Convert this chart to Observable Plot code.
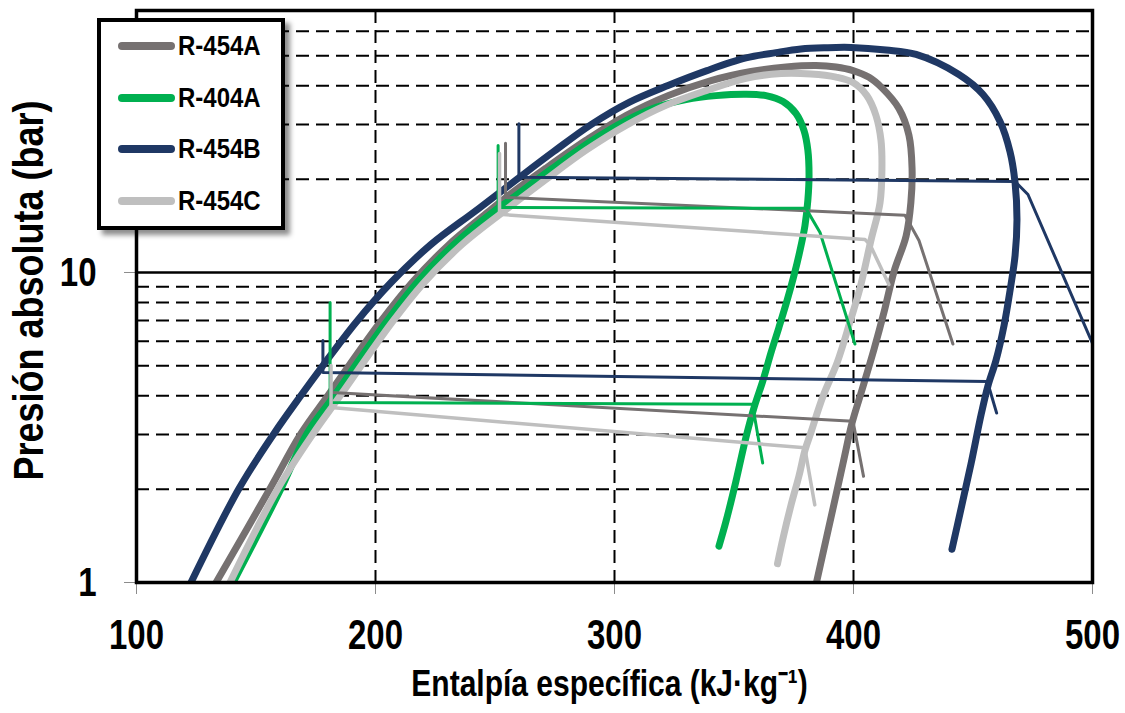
<!DOCTYPE html>
<html><head><meta charset="utf-8">
<script src="https://cdn.jsdelivr.net/npm/d3@7"></script>
<script src="https://cdn.jsdelivr.net/npm/@observablehq/plot@0.6"></script>
<style>
body{margin:0;background:#fff;}
#wrap{position:relative;width:1125px;height:713px;font-family:"Liberation Sans",Arial,sans-serif;}
#legend{position:absolute;left:97px;top:18px;width:180px;height:204px;border:4px solid #000;background:#fff;box-shadow:5px 5px 5px rgba(0,0,0,0.45);}
.item{position:absolute;left:0;width:180px;height:24px;}
.sw{position:absolute;left:17px;top:8px;width:57px;height:8px;border-radius:4px;}
.lab{position:absolute;left:77px;top:0;line-height:24px;font-size:24px;font-weight:bold;transform:scaleY(1.18);transform-origin:center;white-space:nowrap;}
</style>
</head><body>
<div id="wrap"><div id="chart"></div><div id="legend"></div></div>
<script>
// ---- data (h in kJ/kg, p in bar) ----
const series = ["R-454A", "R-404A", "R-454B", "R-454C"];
const colors = ["#767171", "#00B050", "#1F3864", "#BFBFBF"];

const r454A_dome = [[133.3,1.0],[155.9,2.01],[168.8,3.02],[180.1,4.01],[201.9,6.90],[215.3,9.28],[230.8,12.31],[247.9,15.85],[254.6,17.46],[271.3,21.7],[288.1,26.7],[304.8,32.1],[322.4,37.2],[340.4,41.6],[357.1,44.5],[371.8,46.0],[384.3,46.5],[392.7,46.0],[399.8,44.8],[406.5,42.6],[411.9,39.4],[419.0,33.8],[423.2,27.7],[424.5,21.7],[424.0,16.8],[422.0,13.1],[417.0,10.1],[412.8,7.46],[408.6,5.66],[403.6,4.19],[399.4,3.27],[395.6,2.42],[391.4,1.73],[384.5,1.0]];
const r404A_dome = [[140.4,1.0],[160.5,2.01],[171.3,3.02],[182.2,3.95],[204.4,6.90],[217.4,9.28],[232.8,12.31],[250.0,15.85],[255.9,17.07],[273.4,21.5],[290.2,26.5],[304.8,30.9],[317.4,34.1],[329.9,36.1],[342.5,37.2],[355.0,37.6],[363.4,37.2],[370.5,35.6],[375.9,32.6],[379.3,28.7],[380.9,24.8],[381.4,20.6],[380.9,17.1],[379.7,14.18],[377.6,11.77],[375.1,9.78],[372.2,8.12],[368.8,6.65],[365.5,5.52],[362.1,4.48],[358.4,3.67],[355.0,2.94],[350.8,2.12],[346.6,1.57],[343.7,1.31]];
const r454B_dome = [[122.8,1.0],[142.9,2.01],[157.5,3.02],[168.8,4.01],[178.0,5.01],[191.8,6.90],[206.5,9.28],[223.2,12.31],[242.1,15.85],[259.6,20.1],[274.7,24.6],[290.2,30.0],[306.1,35.4],[322.4,40.1],[338.7,44.8],[355.0,49.2],[367.6,51.2],[378.0,52.6],[388.5,53.1],[399.0,53.2],[413.6,52.2],[426.2,50.5],[444.1,43.5],[454.2,37.5],[461.3,30.7],[465.5,24.5],[467.6,19.5],[468.4,14.8],[467.6,11.34],[465.5,8.75],[463.0,6.75],[459.6,5.2],[456.3,4.32],[453.4,3.48],[449.2,2.42],[445.0,1.73],[441.2,1.28]];
const r454C_dome = [[139.1,1.0],[159.2,2.01],[173.9,3.02],[184.7,3.95],[206.9,6.90],[220.3,9.28],[236.2,12.31],[254.2,15.85],[271.3,19.95],[288.1,24.8],[304.8,29.8],[321.5,34.6],[338.3,38.6],[355.0,42.3],[369.7,43.85],[382.2,43.7],[392.7,42.7],[399.8,41.0],[405.6,37.2],[409.4,32.1],[411.5,26.7],[411.9,21.7],[411.1,16.8],[407.3,12.69],[402.7,8.88],[398.5,6.92],[393.2,5.13],[387.2,3.98],[382.2,3.05],[379.7,2.67],[377.2,2.21],[373.8,1.77],[370.5,1.39],[368.2,1.15]];

const r454A_high = [[254.4,26.1],[254.4,17.46],[421.5,15.3],[423.0,14.6],[427.4,12.68],[441.6,5.88]];
const r404A_high = [[251.3,25.7],[251.3,16.2],[380.1,16.1],[386.0,13.46],[400.6,5.88]];
const r454B_high = [[260.0,30.2],[260.0,20.3],[467.6,19.66],[473.0,17.85],[500.0,5.9]];
const r454C_high = [[251.9,24.2],[251.9,15.4],[404.8,12.78],[406.9,12.3],[414.8,9.15]];

const r454A_low = [[181.8,4.10],[399.8,3.31],[404.2,2.20]];
const r404A_low = [[181.0,8.0],[181.0,3.81],[357.7,3.76],[362.0,2.43]];
const r454B_low = [[178.0,6.03],[178.0,4.76],[456.0,4.45],[459.9,3.52]];
const r454C_low = [[181.4,5.01],[181.4,3.67],[379.6,2.72],[383.8,1.78]];

const domes = [r454A_dome, r404A_dome, r454B_dome, r454C_dome];
const highs = [r454A_high, r404A_high, r454B_high, r454C_high];
const lows = [r454A_low, r404A_low, r454B_low, r454C_low];

const xTicks = [100, 200, 300, 400, 500];
const yTicks = [1, 10];
const gridP = [2, 3, 4, 5, 6, 7, 8, 9, 20, 30, 40, 50, 60];
const gridH = [200, 300, 400];
const xTitle = "Entalpía específica (kJ·kg⁻¹)";
const yTitle = "Presión absoluta (bar)";

// ---- chart ----
const dash = {stroke: "#000", strokeWidth: 2, strokeDasharray: "13,7"};
const marks = [
  Plot.ruleY(gridP, dash),
  Plot.ruleX(gridH, dash),
  Plot.ruleY([10], {stroke: "#000", strokeWidth: 2.5}),
];
domes.forEach((d, i) => marks.push(Plot.line(d, {x: v => v[0], y: v => v[1], stroke: colors[i], strokeWidth: 7, strokeLinecap: "round", strokeLinejoin: "round", curve: "catmull-rom", clip: true})));
[...highs, ...lows].forEach((d, k) => {
  const i = k % 4;
  marks.push(Plot.line(d, {x: v => v[0], y: v => v[1], stroke: colors[i], strokeWidth: i === 3 ? 3.5 : 3, strokeLinecap: "round", strokeLinejoin: "round", clip: true}));
});
marks.push(
  Plot.axisX({ticks: xTicks, tickSize: 12, stroke: "#8c8c8c", tickFormat: () => "", label: null}),
  Plot.axisX({ticks: xTicks, tickSize: 0, tickPadding: 40, fontSize: 33, tickFormat: d => String(d), label: null}),
  Plot.axisY({ticks: yTicks, tickSize: 12, stroke: "#8c8c8c", tickFormat: () => "", label: null}),
  Plot.axisY({ticks: yTicks, tickSize: 0, tickPadding: 40, fontSize: 33, tickFormat: d => String(d), label: null}),
  Plot.text([xTitle], {text: d => d, frameAnchor: "bottom", textAnchor: "middle", dx: -5, dy: 101, fontSize: 30, lineAnchor: "middle"}),
  Plot.text([yTitle], {text: d => d, frameAnchor: "left", textAnchor: "middle", rotate: -90, dx: -107, dy: -6, fontSize: 36, lineAnchor: "middle"}),
  Plot.frame({stroke: "#000", strokeWidth: 3.5})
);

const chart = Plot.plot({
  width: 1125, height: 713,
  marginLeft: 136, marginRight: 33, marginTop: 10, marginBottom: 131,
  x: {domain: [100, 500]},
  y: {type: "log", domain: [1, 70]},
  style: {fontFamily: "'Liberation Sans', Arial, sans-serif", fontWeight: "bold", background: "white", color: "black"},
  marks
});
document.getElementById("chart").appendChild(chart);

function stretch(nodes, sy) {
  nodes.forEach(el => {
    const b = el.getBBox();
    const cx = b.x + b.width / 2, cy = b.y + b.height / 2;
    const t = el.getAttribute("transform") || "";
    el.setAttribute("transform", `${t} translate(${cx},${cy}) scale(1,${sy}) translate(${-cx},${-cy})`);
  });
}
stretch(chart.querySelectorAll('g[aria-label="x-axis tick label"] text'), 1.3);
stretch(chart.querySelectorAll('g[aria-label="y-axis tick label"] text'), 1.25);
chart.querySelectorAll('g[aria-label="text"] text').forEach(el => {
  stretch([el], el.textContent === xTitle ? 1.25 : 1.16);
});

// ---- legend ----
const lg = document.getElementById("legend");
const rowY = [24, 76, 127, 179];
series.forEach((s, i) => {
  const it = document.createElement("div");
  it.className = "item";
  it.style.top = (rowY[i] - 12) + "px";
  it.innerHTML = `<div class="sw" style="background:${colors[i]}"></div><div class="lab">${s}</div>`;
  lg.appendChild(it);
});
</script>
</body></html>
